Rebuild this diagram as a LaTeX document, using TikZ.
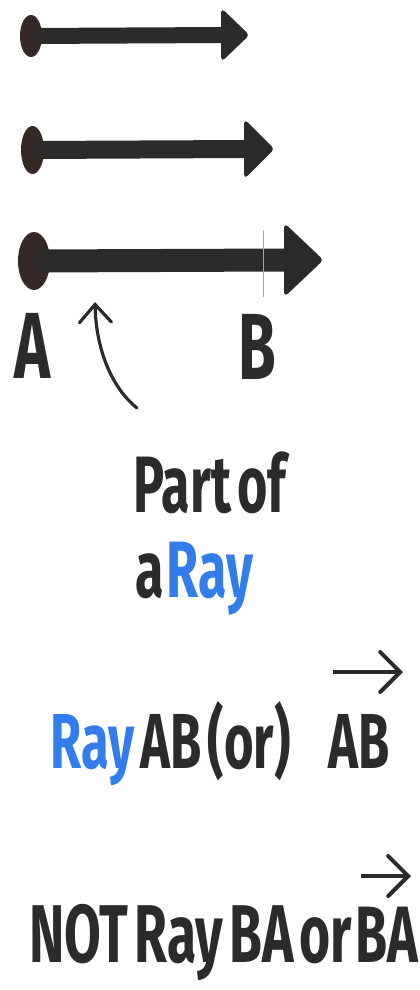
\documentclass[tikz,border=0pt]{standalone}
\usepackage{fontspec}
\newfontfamily\handfont{Fira Sans}[FakeStretch=0.65,WordSpace=0.5]
\usetikzlibrary{positioning,calc,arrows.meta,shapes.geometric}
\definecolor{ink}{RGB}{45,42,42}
\definecolor{dotink}{RGB}{55,40,40}
\definecolor{rayblue}{RGB}{50,125,235}
\tikzset{raydot/.style={ellipse,fill=dotink,inner sep=0pt}  }
\tikzset{shaft/.style={draw=ink,line cap=butt}  }
\tikzset{rayhead/.style={fill=ink,draw=ink,line width=1pt,rounded corners=1.5pt}  }
\tikzset{hand/.style={anchor=base west,inner sep=0pt,text=ink,font=\handfont\bfseries}  }
\tikzset{vecarrow/.style={draw=ink,line width=2pt,-{Straight Barb[length=10pt,width=20pt,line cap=round]}}  }
\tikzset{>={Latex}}

\begin{document}
\begin{tikzpicture}[x=0.5pt,y=-0.5pt]
\useasboundingbox (0,0) rectangle (419,990);
  % three rays, each a little longer and thicker
  % {y / dot rx / dot ry / shaft / head back / tip / half head}
  \foreach \n/\yy/\rx/\ry/\sw/\hb/\tp/\hh in {1/35/22/42/16/222/248/25,
      2/149/23/48/18/245/273/28, 3/260/32/58/23/285/322/35}
  {
    \node[raydot,minimum width=\rx*0.5pt,minimum height=\ry*0.5pt] (d\n) at (31+1.5*\n-1.5,\yy+1) {};
    \coordinate (h\n) at (\hb+2,\yy);
    \draw[shaft,line width=\sw*0.5pt] (d\n.center)--(h\n);
    \filldraw[rayhead] (\hb,\yy-\hh) -- (\tp,\yy) -- (\hb,\yy+\hh) -- cycle;
  }
  % mark for B on the third ray
  \coordinate (bt) at (263,230);
  \coordinate (bb) at (263,297);
  \draw[gray!70,line width=0.5pt] (bt)--(bb);

  \node[hand,font=\handfont\bfseries\fontsize{47}{50}\selectfont,anchor=base] (A) at (33,378) {A};
  \node[hand,font=\handfont\bfseries\fontsize{47}{50}\selectfont,anchor=base] (B) at (257,379) {B};

  % pointer to the part of the ray
  \coordinate (ptip) at (95,302);
  \coordinate (ptail) at (137,408);
  \draw[ink,line width=1.6pt,line cap=round,-{Straight Barb[length=9pt,width=16pt,line cap=round]}]
    (ptail) .. controls (112,388) and (96,350) .. (ptip);

  \node[hand,font=\handfont\bfseries\fontsize{40}{44}\selectfont] (part) at (133,512) {Part of};
  \node[hand,font=\handfont\bfseries\fontsize{40}{44}\selectfont] (aray) at (135,597) {a\kern1.5pt\textcolor{rayblue}{Ray}};

  \node[hand,font=\handfont\bfseries\fontsize{39}{43}\selectfont] (rayab) at (50,768) {\textcolor{rayblue}{Ray} AB (or)};
  \node[hand,font=\handfont\bfseries\fontsize{39}{43}\selectfont] (abvec) at (328,768) {AB};
  \coordinate (v1s) at (333,672);
  \coordinate (v1e) at (403,672);
  \draw[vecarrow] (v1s)--(v1e);

  \node[hand,font=\handfont\bfseries\fontsize{41}{45}\selectfont] (notba) at (29,962) {NOT Ray BA or};
  \node[hand,font=\handfont\bfseries\fontsize{40}{44}\selectfont] (bavec) at (355,962) {BA};
  \coordinate (v2s) at (361,876);
  \coordinate (v2e) at (411,876);
  \draw[vecarrow] (v2s)--(v2e);
\end{tikzpicture}
\end{document}
